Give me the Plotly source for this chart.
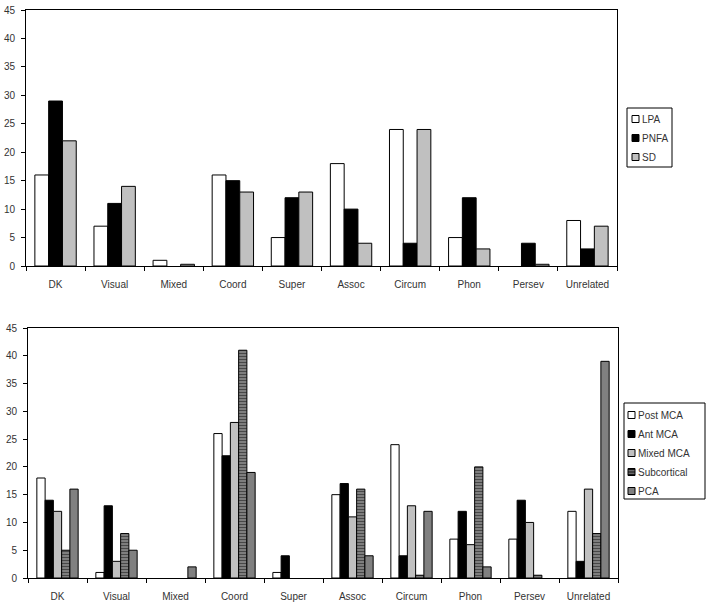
import plotly.graph_objects as go

categories = ["DK", "Visual", "Mixed", "Coord", "Super", "Assoc", "Circum", "Phon", "Persev", "Unrelated"]

# Top chart series
lpa = [16, 7, 1, 16, 5, 18, 24, 5, 0, 8]
pnfa = [29, 11, 0, 15, 12, 10, 4, 12, 4, 3]
sd = [22, 14, 0.3, 13, 13, 4, 24, 3, 0.3, 7]

# Bottom chart series
post_mca = [18, 1, 0, 26, 1, 15, 24, 7, 7, 12]
ant_mca = [14, 13, 0, 22, 4, 17, 4, 12, 14, 3]
mixed_mca = [12, 3, 0, 28, 0, 11, 13, 6, 10, 16]
subcortical = [5, 8, 0, 41, 0, 16, 0.5, 20, 0.5, 8]
pca = [16, 5, 2, 19, 0, 4, 12, 2, 0, 39]

W, H = 712, 608
fig = go.Figure()


def outline(vals):
    return dict(color="black", width=[1 if v > 0 else 0 for v in vals])


top_series = [("LPA", lpa, "white", None), ("PNFA", pnfa, "black", None), ("SD", sd, "#c0c0c0", None)]
for name, vals, col, pat in top_series:
    fig.add_trace(go.Bar(x=categories, y=vals, name=name, xaxis="x", yaxis="y",
                         marker=dict(color=col, line=outline(vals)),
                         offsetgroup=name, showlegend=False))

bottom_series = [("Post MCA", post_mca, "white", None),
                 ("Ant MCA", ant_mca, "black", None),
                 ("Mixed MCA", mixed_mca, "#c0c0c0", None),
                 ("Subcortical", subcortical, "#808080", "-"),
                 ("PCA", pca, "#808080", None)]
for name, vals, col, pat in bottom_series:
    marker = dict(color=col, line=outline(vals))
    if pat:
        marker["pattern"] = dict(shape="-", fgcolor="#000000", bgcolor="#909090",
                                 size=3, solidity=0.5)
    fig.add_trace(go.Bar(x=categories, y=vals, name=name, xaxis="x2", yaxis="y2",
                         marker=marker, offsetgroup=name, showlegend=False))

FAM = "Liberation Sans, Arial, sans-serif"
font = dict(family=FAM, size=10, color="#333333")


def xax(domain, anchor):
    return dict(domain=domain, anchor=anchor, showline=True, linecolor="black", linewidth=1,
                mirror=True, ticks="outside", tickson="boundaries", ticklen=4,
                tickcolor="black", showgrid=False, tickfont=font, automargin=False,
                ticklabelstandoff=9)


def yax(domain, anchor):
    return dict(domain=domain, anchor=anchor, range=[0, 45], dtick=5, showline=True,
                linecolor="black", linewidth=1, mirror=True, ticks="outside", ticklen=4,
                tickcolor="black", showgrid=False, zeroline=False, tickfont=font,
                automargin=False, ticklabelstandoff=4)


# Compact legend boxes drawn in paper coordinates (pixel based layout)
def add_legend(series, box, sq_x, text_x, row0, row_h, sq):
    x0, y0, x1, y1 = box
    fig.add_shape(type="rect", xref="paper", yref="paper",
                  x0=x0 / W, x1=x1 / W, y0=1 - y0 / H, y1=1 - y1 / H,
                  line=dict(color="black", width=1), fillcolor="white", layer="above")
    for i, (name, _vals, col, pat) in enumerate(series):
        cy = row0 + i * row_h
        fig.add_shape(type="rect", xref="paper", yref="paper",
                      x0=sq_x / W, x1=(sq_x + sq) / W,
                      y0=1 - (cy - sq / 2) / H, y1=1 - (cy + sq / 2) / H,
                      line=dict(color="black", width=1), fillcolor=col, layer="above")
        if pat:
            for k in (1, 3, 5):
                yy = cy - sq / 2 + k * sq / 6
                fig.add_shape(type="line", xref="paper", yref="paper",
                              x0=sq_x / W, x1=(sq_x + sq) / W,
                              y0=1 - yy / H, y1=1 - yy / H,
                              line=dict(color="black", width=1), layer="above")
        fig.add_annotation(xref="paper", yref="paper", x=text_x / W, y=1 - cy / H,
                           xanchor="left", yanchor="middle", text=name, showarrow=False,
                           font=dict(family=FAM, size=10, color="#333333"))


add_legend(top_series, (627, 108, 672, 167), 632, 640, 119, 19, 7)
add_legend(bottom_series, (624, 403, 705, 499), 628, 636, 415, 19, 7)

fig.update_layout(
    width=W, height=H,
    margin=dict(l=0, r=0, t=0, b=0, autoexpand=False),
    paper_bgcolor="white", plot_bgcolor="white",
    font=font,
    barmode="group",
    bargap=0.3,
    xaxis=xax([26 / W, 617 / W], "y"),
    yaxis=yax([1 - 266 / H, 1 - 10 / H], "x"),
    xaxis2=xax([28 / W, 618 / W], "y2"),
    yaxis2=yax([1 - 578 / H, 1 - 328 / H], "x2"),
    showlegend=False,
)

fig.write_html("out.html", config={"displayModeBar": False},
               post_script="document.body.style.margin='0';")
